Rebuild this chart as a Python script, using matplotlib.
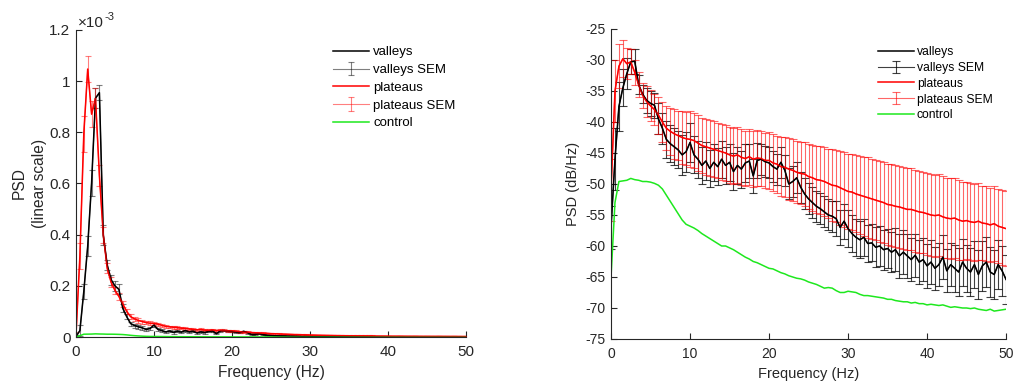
import numpy as np
import matplotlib
matplotlib.use("Agg")
import matplotlib.pyplot as plt
from matplotlib.ticker import FuncFormatter

plt.rcParams['font.family'] = ['Liberation Sans', 'DejaVu Sans']
plt.rcParams['axes.unicode_minus'] = False

# ---------------- data ----------------
freq = np.arange(0, 50.01, 0.5)   # Hz, 101 bins

valleys_db = [
    -57, -46, -37.5, -34.5, -32.2, -30.3, -30.2, -34, -35.5, -36.5,
    -37, -37.3, -39.5, -41, -42.8, -43.5, -44, -44.5, -45.3, -44.8,
    -43.3, -45.3, -46, -47, -46.3, -47.5, -46.5, -47.2, -46, -47,
    -46.5, -48, -47, -47.6, -46.6, -46.3, -48.7, -46.2, -46, -46.4,
    -46.6, -47.2, -47.6, -46.5, -47.8, -50, -49.6, -49, -50.5, -51.6,
    -52.4, -53, -53.6, -54, -54.5, -55, -55.2, -55.6, -57, -56,
    -57.2, -58, -58.6, -59, -58.6, -59.6, -59.5, -60.2, -60, -60.6,
    -60.4, -61, -60.6, -61.6, -61, -61.6, -62.2, -61.5, -62.6, -62.2,
    -63.2, -62.6, -63.6, -63, -61.8, -64, -63, -63.6, -64.2, -62.6,
    -63.6, -64.2, -63, -64.6, -63.2, -62.6, -64.2, -64.6, -63, -64,
    -65.4]

valleys_sem_db = [
    3.5, 5, 4, 3, 2.5, 2, 2, 1.5, 1.5, 2,
    2, 2, 2.5, 2.5, 3, 3, 3, 3, 3.2, 3.2,
    3.2, 3, 3, 3, 3, 3, 3, 3, 3, 3,
    3, 3, 3, 3, 3, 2.8, 2.8, 2.8, 2.5, 2.5,
    2.5, 2.5, 2.5, 2.5, 2.5, 2.5, 2.5, 2.5, 2.5, 2.5,
    2.5, 2.5, 2.5, 2.5, 2.5, 2.5, 2.5, 2.8, 2.8, 2.8,
    3, 3, 3, 3, 3, 3, 3, 3.2, 3.2, 3.2,
    3.2, 3.2, 3.5, 3.5, 3.5, 3.5, 3.5, 3.5, 3.5, 3.5,
    3.5, 3.5, 3.5, 3.5, 3.5, 3.5, 3.5, 3.8, 3.8, 3.8,
    3.8, 3.8, 3.8, 4, 4, 4, 4, 4, 4, 4,
    4]

plateaus_db = [
    -51, -35, -31, -29.8, -30.6, -30.3, -32, -34, -35.7, -36.7,
    -37.4, -38, -38.9, -40, -41, -41.5, -41.9, -42.2, -42.5, -42.7,
    -42.8, -43, -43.4, -43.8, -44, -44.2, -44.4, -44.6, -44.8, -45,
    -45.3, -45.5, -45.3, -45.7, -45.9, -45.6, -46, -45.8, -45.9, -46.2,
    -46.2, -46.6, -46.8, -47.2, -47.3, -47.6, -47.8, -48.1, -48.3, -48.4,
    -48.8, -49, -49.3, -49.4, -49.6, -49.9, -50.2, -50.3, -50.6, -50.9,
    -51.2, -51.3, -51.6, -51.8, -52, -52.2, -52.4, -52.6, -52.8, -53,
    -53.3, -53.4, -53.6, -53.7, -53.9, -54.1, -54.1, -54.3, -54.5, -54.6,
    -54.8, -55, -55.1, -55, -55.3, -55.5, -55.6, -55.5, -55.8, -56,
    -55.9, -56.1, -56.2, -56, -56.3, -56.4, -56.6, -56.4, -56.8, -57,
    -57.2]

plateaus_sem_db = [
    5, 5, 3.5, 3, 2.5, 2, 2, 2, 2, 2.5,
    2.5, 2.5, 3, 3.2, 3.5, 3.8, 4, 4, 4.2, 4.3,
    4.5, 4.5, 4.5, 4.5, 4.5, 4.5, 4.5, 4.5, 4.5, 4.5,
    4.5, 4.5, 4.5, 4.5, 4.5, 4.5, 4.5, 4.5, 4.5, 4.5,
    4.6, 4.6, 4.6, 4.8, 4.8, 5, 5, 5, 5, 5.2,
    5.2, 5.3, 5.4, 5.5, 5.5, 5.6, 5.8, 5.8, 6, 6,
    6, 6.2, 6.2, 6.3, 6.4, 6.5, 6.5, 6.5, 6.5, 6.5,
    6.6, 6.6, 6.6, 6.6, 6.6, 6.6, 6.6, 6.6, 6.6, 6.6,
    6.6, 6.6, 6.6, 6.6, 6.6, 6.5, 6.5, 6.4, 6.4, 6.3,
    6.2, 6.2, 6.2, 6.2, 6, 6, 6, 6, 6, 6,
    6]

control_db = [
    -65, -53, -49.6, -49.5, -49.4, -49.1, -49.3, -49.4, -49.6, -49.6,
    -49.7, -49.9, -50.2, -50.8, -51.8, -52.8, -53.8, -54.8, -55.8, -56.5,
    -56.8, -57.1, -57.5, -58, -58.4, -58.8, -59.2, -59.6, -60, -60,
    -60.3, -60.6, -61, -61.4, -61.8, -62.1, -62.5, -62.7, -63, -63.3,
    -63.6, -63.7, -64, -64.3, -64.5, -64.8, -65, -65.2, -65.3, -65.5,
    -65.8, -66, -66.2, -66.5, -66.8, -66.7, -66.8, -67.2, -67.5, -67.5,
    -67.3, -67.4, -67.5, -67.8, -68, -68, -68.1, -68.2, -68.3, -68.4,
    -68.6, -68.6, -68.8, -68.9, -69, -69, -69.2, -69.1, -69.3, -69.3,
    -69.5, -69.4, -69.5, -69.6, -69.5, -69.7, -69.9, -69.8, -69.9, -70,
    -70, -70.1, -70, -70.2, -70.3, -70.4, -70.2, -70.5, -70.4, -70.3,
    -70.2]

# SEM on the linear scale (units of 1e-3)
valleys_sem_lin = [
    0.005, 0.02, 0.03, 0.04, 0.05, 0.04, 0.03, 0.04, 0.02, 0.02,
    0.02, 0.02, 0.015, 0.01, 0.008, 0.008, 0.007, 0.007, 0.006, 0.006,
    0.006, 0.005, 0.005, 0.005, 0.005, 0.005, 0.004, 0.004, 0.004, 0.004,
    0.004, 0.004, 0.004, 0.004, 0.004, 0.003, 0.003, 0.003, 0.003, 0.003,
    0.003, 0.003, 0.003, 0.003, 0.003, 0.002, 0.002, 0.002, 0.002, 0.002,
    0.002, 0.002, 0.002, 0.002, 0.002, 0.002, 0.002, 0.001, 0.001, 0.001,
    0.001, 0.001, 0.001, 0.001, 0.001, 0.001, 0.001, 0.001, 0.001, 0.001,
    0.001, 0.001, 0.001, 0.001, 0.001, 0.001, 0.001, 0.001, 0.001, 0.001,
    0.001, 0.001, 0.001, 0.001, 0.001, 0.001, 0.001, 0.001, 0.001, 0.001,
    0.001, 0.001, 0.001, 0.001, 0.001, 0.001, 0.001, 0.001, 0.001, 0.001,
    0.001]

plateaus_sem_lin = [
    0.01, 0.05, 0.07, 0.05, 0.05, 0.04, 0.04, 0.03, 0.02, 0.02,
    0.015, 0.015, 0.012, 0.01, 0.01, 0.008, 0.008, 0.008, 0.007, 0.007,
    0.006, 0.006, 0.006, 0.006, 0.005, 0.005, 0.005, 0.005, 0.005, 0.005,
    0.005, 0.005, 0.004, 0.004, 0.004, 0.004, 0.004, 0.004, 0.004, 0.004,
    0.004, 0.004, 0.004, 0.003, 0.003, 0.003, 0.003, 0.003, 0.003, 0.003,
    0.003, 0.003, 0.003, 0.002, 0.002, 0.002, 0.002, 0.002, 0.002, 0.002,
    0.002, 0.002, 0.002, 0.002, 0.002, 0.002, 0.002, 0.002, 0.002, 0.002,
    0.002, 0.002, 0.002, 0.002, 0.002, 0.002, 0.002, 0.002, 0.002, 0.002,
    0.002, 0.002, 0.002, 0.002, 0.002, 0.002, 0.002, 0.002, 0.002, 0.002,
    0.002, 0.002, 0.002, 0.002, 0.002, 0.002, 0.002, 0.002, 0.002, 0.002,
    0.002]

labels = ['valleys', 'valleys SEM', 'plateaus', 'plateaus SEM', 'control']

# linear-scale PSD in units of 1e-3
valleys_lin = 10 ** (np.array(valleys_db) / 10) * 1e3
plateaus_lin = 10 ** (np.array(plateaus_db) / 10) * 1e3
control_lin = 10 ** (np.array(control_db) / 10) * 1e3

# ---------------- style ----------------
AX_COL = '#262626'
GREEN = '#1ee81e'

fig = plt.figure(figsize=(10.16, 3.83), dpi=100)


def style_axes(ax, fs):
    for s in ['top', 'right']:
        ax.spines[s].set_visible(False)
    for s in ['left', 'bottom']:
        ax.spines[s].set_color(AX_COL)
        ax.spines[s].set_linewidth(0.8)
    ax.tick_params(direction='in', length=4, width=0.8, colors=AX_COL,
                   labelsize=fs)
    ax.tick_params(axis='x', pad=6)
    ax.tick_params(axis='y', pad=4)


def draw(ax, v, vs, p, ps, c, sem_alpha_v, sem_alpha_p, cap):
    ev = ax.errorbar(freq, v, yerr=vs, color='black', alpha=sem_alpha_v,
                     lw=0.8, elinewidth=0.8, capsize=cap, capthick=0.8)
    ep = ax.errorbar(freq, p, yerr=ps, color='red', alpha=sem_alpha_p,
                     lw=0.8, elinewidth=0.8, capsize=cap, capthick=0.8)
    lv, = ax.plot(freq, v, color='black', lw=1.1)
    lp, = ax.plot(freq, p, color='red', lw=1.1)
    lc, = ax.plot(freq, c, color=GREEN, lw=1.1)
    return [lv, ev, lp, ep, lc]

# ---- left: linear ----
ax1 = fig.add_axes([0.0748, 0.1201, 0.3839, 0.8016])
h1 = draw(ax1, valleys_lin, valleys_sem_lin, plateaus_lin, plateaus_sem_lin,
          control_lin, 0.5, 0.5, 2.5)
style_axes(ax1, 11)
ax1.set_xlim(0, 50)
ax1.set_ylim(0, 1.2)
ax1.set_xticks([0, 10, 20, 30, 40, 50])
ax1.set_yticks([0, 0.2, 0.4, 0.6, 0.8, 1.0, 1.2])
ax1.yaxis.set_major_formatter(FuncFormatter(lambda x, p: '%g' % round(x, 3)))
ax1.set_xlabel('Frequency (Hz)', fontsize=11.2, color=AX_COL, labelpad=4)
ax1.set_ylabel('PSD\n(linear scale)', fontsize=11.2, color=AX_COL,
               labelpad=1.5, linespacing=1.45)
# MATLAB-style exponent label
fig.text(78 / 1016, 1 - 27 / 383, '\u00d710', fontsize=11, color=AX_COL,
         ha='left', va='baseline')
fig.text(104.5 / 1016, 1 - 20 / 383, '-3', fontsize=8, color=AX_COL,
         ha='left', va='baseline')
fig.legend(h1, labels, loc='upper left', bbox_to_anchor=(0.3278, 0.8796),
           frameon=False, fontsize=9.5, handlelength=2.7, handletextpad=0.35,
           labelspacing=0.42, borderpad=0, borderaxespad=0)

# ---- right: dB ----
ax2 = fig.add_axes([0.6014, 0.1149, 0.3888, 0.8094])
h2 = draw(ax2, valleys_db, valleys_sem_db, plateaus_db, plateaus_sem_db,
          control_db, 0.75, 0.6, 3)
style_axes(ax2, 10)
ax2.set_xlim(0, 50)
ax2.set_ylim(-75, -25)
ax2.set_xticks([0, 10, 20, 30, 40, 50])
ax2.set_yticks(np.arange(-75, -24, 5))
ax2.set_xlabel('Frequency (Hz)', fontsize=10.5, color=AX_COL, labelpad=4)
ax2.set_ylabel('PSD (dB/Hz)', fontsize=10.5, color=AX_COL, labelpad=4)
fig.legend(h2, labels, loc='upper left', bbox_to_anchor=(0.8642, 0.8800),
           frameon=False, fontsize=8.7, handlelength=3.0, handletextpad=0.2,
           labelspacing=0.32, borderpad=0, borderaxespad=0)

fig.savefig('out.png', dpi=100)
